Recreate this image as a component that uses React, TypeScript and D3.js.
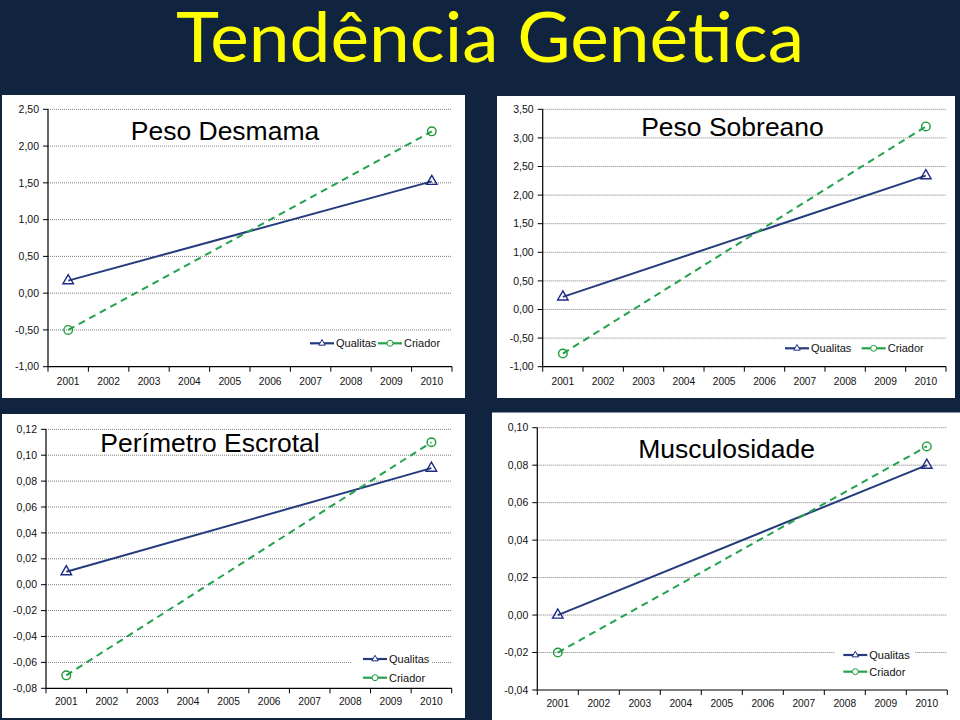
import React from "react";
import * as d3 from "d3";

const years = ["2001", "2002", "2003", "2004", "2005", "2006", "2007", "2008", "2009", "2010"];
const trendYears = ["2001", "2010"];
const seriesNames = ["Qualitas", "Criador"];

const pesoDesmamaQualitas = [0.17, 1.52];
const pesoDesmamaCriador = [-0.5, 2.2];
const pesoDesmamaTicks = [-1, -0.5, 0, 0.5, 1, 1.5, 2, 2.5];

const pesoSobreanoQualitas = [0.22, 2.34];
const pesoSobreanoCriador = [-0.77, 3.2];
const pesoSobreanoTicks = [-1, -0.5, 0, 0.5, 1, 1.5, 2, 2.5, 3, 3.5];

const perimetroQualitas = [0.01, 0.09];
const perimetroCriador = [-0.07, 0.11];
const perimetroTicks = [-0.08, -0.06, -0.04, -0.02, 0, 0.02, 0.04, 0.06, 0.08, 0.1, 0.12];

const musculosidadeQualitas = [0.0, 0.08];
const musculosidadeCriador = [-0.02, 0.09];
const musculosidadeTicks = [-0.04, -0.02, 0, 0.02, 0.04, 0.06, 0.08, 0.1];

const BG = "#11243f";
const NAVY = "#243c7c";
const NAVY_MARK = "#1c2a86";
const GREEN = "#22a24c";
const GREEN_MARK = "#1f9a3a";
const FONT = "'Liberation Sans', Arial, sans-serif";

const panels = [
  {
    title: "Peso Desmama",
    q: pesoDesmamaQualitas, c: pesoDesmamaCriador, ticks: pesoDesmamaTicks,
    box: [2, 95, 465, 398], left: 48, right: 452, top: 109.3, bottom: 366.7,
    titleX: 225, titleY: 140, labelDy: 18,
    legend: { x: 310, y: 343.3, dx: 68, dy: 0, bg: null },
  },
  {
    title: "Peso Sobreano",
    q: pesoSobreanoQualitas, c: pesoSobreanoCriador, ticks: pesoSobreanoTicks,
    box: [497, 96, 955, 398], left: 542.7, right: 946, top: 109.3, bottom: 366.7,
    titleX: 732.5, titleY: 135.7, labelDy: 18.5,
    legend: { x: 785, y: 348.3, dx: 76.7, dy: 0, bg: null },
  },
  {
    title: "Perímetro Escrotal",
    q: perimetroQualitas, c: perimetroCriador, ticks: perimetroTicks,
    box: [2, 414, 465, 718], left: 46, right: 451.7, top: 429.3, bottom: 688.3,
    titleX: 210, titleY: 451.7, labelDy: 17,
    legend: { x: 363, y: 659, dx: 0, dy: 18.7, bg: [352, 650, 432, 687] },
  },
  {
    title: "Musculosidade",
    q: musculosidadeQualitas, c: musculosidadeCriador, ticks: musculosidadeTicks,
    box: [492, 412.5, 960, 720], left: 537.3, right: 947.3, top: 427.7, bottom: 690,
    titleX: 726.7, titleY: 458.3, labelDy: 16.5,
    legend: { x: 843.3, y: 655, dx: 0, dy: 16.7, bg: [835, 646, 915, 681] },
  },
];

const fmt = (v: number) => (v < 0 ? "-" : "") + Math.abs(v).toFixed(2).replace(".", ",");

function Panel({ p }: { p: any }) {
  const x = d3.scaleBand().domain(years).range([p.left, p.right]).padding(0);
  const ext = d3.extent(p.ticks) as [number, number];
  const y = d3.scaleLinear().domain(ext).range([p.bottom, p.top]);
  const bw = x.bandwidth();
  const cx = (yr: string) => (x(yr) as number) + bw / 2;
  const line = d3
    .line<{ year: string; value: number }>()
    .x((d) => cx(d.year))
    .y((d) => y(d.value));
  const qData = trendYears.map((yr, i) => ({ year: yr, value: p.q[i] }));
  const cData = trendYears.map((yr, i) => ({ year: yr, value: p.c[i] }));
  const tri = d3.symbol(d3.symbolTriangle, 48)() as string;
  const triSmall = d3.symbol(d3.symbolTriangle, 18)() as string;
  const [bx0, by0, bx1, by1] = p.box;
  const boundaries = years.map((yr) => x(yr) as number).concat([p.right]);
  const lg = p.legend;
  return (
    <g>
      <rect x={bx0} y={by0} width={bx1 - bx0} height={by1 - by0} fill="#ffffff" />
      {p.ticks.map((t: number, i: number) =>
        i === 0 ? null : (
          <line key={"g" + i} x1={p.left} x2={p.right} y1={y(t)} y2={y(t)} stroke="#7a7a7a" strokeWidth={1} strokeDasharray="1,1" />
        )
      )}
      {p.ticks.map((t: number, i: number) => (
        <g key={"yt" + i}>
          <line x1={p.left - 5} x2={p.left} y1={y(t)} y2={y(t)} stroke="#000" strokeWidth={1} />
          <text x={p.left - 9} y={y(t)} dy="0.35em" textAnchor="end" fontSize={10.5} fontFamily={FONT} fill="#111">
            {fmt(t)}
          </text>
        </g>
      ))}
      <line x1={p.left} x2={p.left} y1={p.top} y2={p.bottom} stroke="#000" strokeWidth={1.2} />
      <line x1={p.left} x2={p.right} y1={p.bottom} y2={p.bottom} stroke="#000" strokeWidth={1.2} />
      {boundaries.map((bx: number, i: number) => (
        <line key={"xt" + i} x1={bx} x2={bx} y1={p.bottom} y2={p.bottom + 5} stroke="#000" strokeWidth={1} />
      ))}
      {years.map((yr) => (
        <text key={yr} x={cx(yr)} y={p.bottom + p.labelDy} textAnchor="middle" fontSize={10.2} fontFamily={FONT} fill="#111">
          {yr}
        </text>
      ))}
      <text x={p.titleX} y={p.titleY} textAnchor="middle" fontSize={26.5} fontFamily={FONT} fill="#000">
        {p.title}
      </text>
      <path d={line(qData) as string} fill="none" stroke={NAVY} strokeWidth={2} />
      <path d={line(cData) as string} fill="none" stroke={GREEN} strokeWidth={2} strokeDasharray="7,5" />
      {qData.map((d, i) => (
        <path key={"qm" + i} d={tri} transform={`translate(${cx(d.year)},${y(d.value)})`} fill="none" stroke={NAVY_MARK} strokeWidth={1.4} />
      ))}
      {cData.map((d, i) => (
        <circle key={"cm" + i} cx={cx(d.year)} cy={y(d.value)} r={4.3} fill="none" stroke={GREEN_MARK} strokeWidth={1.4} />
      ))}
      {lg.bg && <rect x={lg.bg[0]} y={lg.bg[1]} width={lg.bg[2] - lg.bg[0]} height={lg.bg[3] - lg.bg[1]} fill="#fff" />}
      {seriesNames.map((name, i) => {
        const lx = lg.x + i * lg.dx;
        const ly = lg.y + i * lg.dy;
        const col = i === 0 ? NAVY : GREEN;
        return (
          <g key={name}>
            <line x1={lx} x2={lx + 24} y1={ly} y2={ly} stroke={col} strokeWidth={2.2} />
            {i === 0 ? (
              <path d={triSmall} transform={`translate(${lx + 12},${ly})`} fill="#fff" stroke={NAVY_MARK} strokeWidth={1} />
            ) : (
              <circle cx={lx + 12} cy={ly} r={3} fill="#fff" stroke={GREEN_MARK} strokeWidth={1} />
            )}
            <text x={lx + 26} y={ly} dy="0.35em" fontSize={11} fontFamily={FONT} fill="#111">
              {name}
            </text>
          </g>
        );
      })}
    </g>
  );
}

export default function App() {
  return (
    <svg width={960} height={720} style={{ position: "absolute", left: 0, top: 0, display: "block" }}>
      <rect x={0} y={0} width={960} height={720} fill={BG} />
      <text x={490} y={62} textAnchor="middle" fontSize={70} fontFamily="Lato, 'Open Sans', sans-serif" fill="#ffff00" textLength={628} lengthAdjust="spacingAndGlyphs">
        Tendência Genética
      </text>
      {panels.map((p) => (
        <Panel key={p.title} p={p} />
      ))}
    </svg>
  );
}
